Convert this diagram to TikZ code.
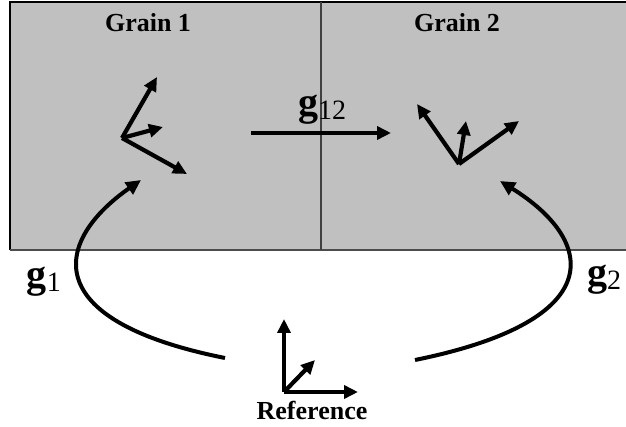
\documentclass[tikz,border=0pt]{standalone}
\usepackage{fontspec}
\setmainfont{Liberation Serif}
\usetikzlibrary{arrows.meta}
\definecolor{graingray}{RGB}{192,192,192}
\newcommand{\rotsub}[1]{\raisebox{-4pt}{\fontsize{28}{30}\selectfont\mdseries #1}}
\begin{document}
\begin{tikzpicture}[x=1pt, y=-1pt,
    axis/.style={line width=4.2pt, -{Triangle[length=14pt,width=13pt]}},
    path/.style={line width=4pt, -{Triangle[length=15pt,width=14pt]}},
    title/.style={font=\fontsize{26}{30}\selectfont\bfseries},
    rot/.style={font=\fontsize{40}{44}\selectfont\bfseries, inner sep=0pt}]
    \useasboundingbox (0,0) rectangle (626,427);
    \fill[graingray] (10,2) rectangle (626,250);
    \draw[line width=1.8pt] (626,2) -- (10,2) -- (10,250);
    \draw[line width=2.2pt, black!70] (10,250) -- (626,250);
    \draw[line width=1.2pt, black!75] (321,2) -- (321,250);
    \node[title] (grain1) at (148,23) {Grain 1};
    \node[title] (grain2) at (457,23) {Grain 2};
    % grain 1 frame
    \coordinate (o1) at (122,138);
    \coordinate (a1) at (157,77);
    \coordinate (b1) at (163,127);
    \coordinate (c1) at (187,174);
    \draw[axis] (o1) -- (a1);
    \draw[axis] (o1) -- (b1);
    \draw[axis] (o1) -- (c1);
    % grain 2 frame
    \coordinate (o2) at (459,164);
    \coordinate (a2) at (417,104);
    \coordinate (b2) at (466,121);
    \coordinate (c2) at (519,121);
    \draw[axis] (o2) -- (a2);
    \draw[axis] (o2) -- (b2);
    \draw[axis] (o2) -- (c2);
    % reference frame
    \coordinate (o0) at (284,392);
    \coordinate (a0) at (284,319);
    \coordinate (b0) at (315,360);
    \coordinate (c0) at (358,392);
    \draw[axis] (o0) -- (a0);
    \draw[axis] (o0) -- (b0);
    \draw[axis] (o0) -- (c0);
    \node[title] (ref) at (312,410) {Reference};
    % misorientation
    \coordinate (m1) at (251,133);
    \coordinate (m2) at (391,133);
    \draw[axis] (m1) -- (m2);
    \node[rot] (g12) at (322,110) {g\rotsub{12}};
    % orientations
    \coordinate (s1) at (225,358);
    \coordinate (e1) at (141,180);
    \draw[path] (s1) .. controls (35,320) and (55,240) .. (e1);
    \node[rot] (g1) at (44,282) {g\rotsub{1}};
    \coordinate (s2) at (415,360);
    \coordinate (e2) at (500,181);
    \draw[path] (s2) .. controls (612,320) and (595,240) .. (e2);
    \node[rot] (g2) at (604,280) {g\rotsub{2}};
\end{tikzpicture}
\end{document}
